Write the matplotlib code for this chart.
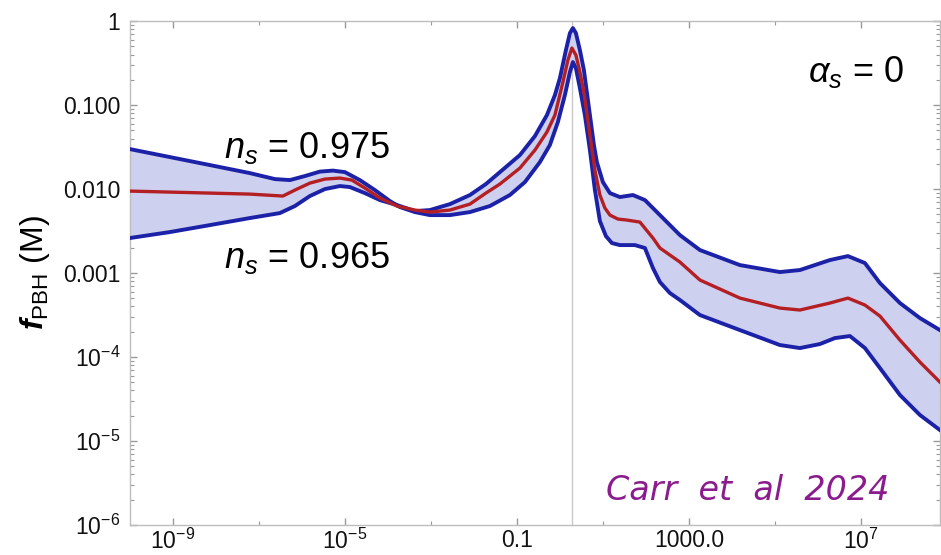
import numpy as np
import matplotlib
matplotlib.use("Agg")
import matplotlib.pyplot as plt
from matplotlib.ticker import FixedLocator, FixedFormatter, NullFormatter

plt.rcParams['font.family'] = ['Liberation Sans', 'DejaVu Sans']
plt.rcParams['mathtext.fontset'] = 'custom'
plt.rcParams['mathtext.rm'] = 'Liberation Sans'
plt.rcParams['mathtext.it'] = 'Liberation Sans:italic'
plt.rcParams['mathtext.bf'] = 'Liberation Sans:bold'
plt.rcParams['mathtext.bfit'] = 'Liberation Sans:italic:bold'

# log10(M / Msun) and log10(f_PBH)
lgm_975 = [-10.000, -9.070, -8.140, -7.209, -6.628, -6.279, -5.930, -5.581, -5.279, -5.000,
           -4.651, -4.302, -3.953, -3.721, -3.372, -3.023, -2.558, -2.093, -1.628, -1.163,
           -0.814, -0.465, -0.233, -0.047, 0.116, 0.233, 0.302, 0.372, 0.465, 0.581,
           0.698, 0.814, 0.930, 1.070, 1.209, 1.395, 1.744, 1.977, 2.163, 2.326,
           2.558, 2.791, 3.256, 4.186, 5.116, 5.581, 6.047, 6.395, 6.744, 7.093,
           7.442, 7.907, 8.372, 8.837]
lgf_975 = [-1.524, -1.619, -1.714, -1.810, -1.881, -1.893, -1.845, -1.792, -1.780, -1.798,
           -1.893, -2.012, -2.143, -2.214, -2.274, -2.310, -2.310, -2.274, -2.202, -2.071,
           -1.917, -1.679, -1.476, -1.202, -0.881, -0.607, -0.488, -0.560, -0.798, -1.119,
           -1.536, -2.012, -2.381, -2.560, -2.643, -2.667, -2.667, -2.702, -2.940, -3.107,
           -3.238, -3.321, -3.500, -3.679, -3.857, -3.893, -3.845, -3.774, -3.750, -3.893,
           -4.131, -4.452, -4.690, -4.869]

lgm_965 = [-10.000, -9.070, -8.140, -7.209, -6.512, -6.163, -5.814, -5.465, -5.116, -4.884,
           -4.535, -4.186, -3.791, -3.372, -3.023, -2.558, -2.093, -1.721, -1.395, -0.930,
           -0.581, -0.302, -0.116, 0.000, 0.140, 0.233, 0.302, 0.372, 0.465, 0.558,
           0.698, 0.791, 0.860, 1.000, 1.163, 1.395, 1.698, 1.977, 2.326, 2.791,
           3.256, 4.186, 5.116, 5.581, 6.279, 6.698, 7.093, 7.442, 7.907, 8.372,
           8.837]
lgf_965 = [-2.583, -2.512, -2.429, -2.345, -2.286, -2.202, -2.083, -2.000, -1.964, -1.976,
           -2.048, -2.131, -2.190, -2.262, -2.250, -2.179, -2.071, -1.940, -1.798, -1.595,
           -1.369, -1.119, -0.881, -0.679, -0.345, -0.143, -0.083, -0.143, -0.345, -0.583,
           -1.119, -1.476, -1.679, -1.917, -2.048, -2.095, -2.071, -2.131, -2.310, -2.548,
           -2.726, -2.905, -2.988, -2.964, -2.845, -2.798, -2.881, -3.119, -3.357, -3.536,
           -3.679]

lgm_mid = [-10.000, -9.070, -8.140, -7.209, -6.442, -6.163, -5.814, -5.465, -5.116, -4.837,
           -4.535, -4.186, -3.791, -3.372, -3.023, -2.558, -2.093, -1.721, -1.395, -0.930,
           -0.581, -0.302, -0.116, 0.070, 0.186, 0.279, 0.372, 0.465, 0.558, 0.698,
           0.814, 0.930, 1.047, 1.163, 1.349, 1.558, 1.860, 2.163, 2.326, 2.791,
           3.256, 4.186, 5.116, 5.581, 6.279, 6.698, 7.093, 7.442, 7.907, 8.372,
           8.837]
lgf_mid = [-2.024, -2.036, -2.048, -2.060, -2.083, -2.012, -1.929, -1.881, -1.869, -1.893,
           -1.988, -2.107, -2.202, -2.250, -2.274, -2.250, -2.179, -2.048, -1.940, -1.750,
           -1.536, -1.321, -1.119, -0.726, -0.464, -0.321, -0.405, -0.607, -0.845, -1.357,
           -1.774, -2.071, -2.226, -2.310, -2.357, -2.369, -2.393, -2.583, -2.702, -2.869,
           -3.083, -3.298, -3.417, -3.440, -3.357, -3.298, -3.381, -3.512, -3.798, -4.060,
           -4.298]

peak_mass = 1.95
xtick_vals = [1e-9, 1e-5, 1e-1, 1e3, 1e7]
xtick_labels = ['$10^{-9}$', '$10^{-5}$', '0.1', '1000.0', '$10^{7}$']
xminor_vals = [1e-7, 1e-3, 1e1, 1e5]
ytick_vals = [1e-6, 1e-5, 1e-4, 1e-3, 1e-2, 1e-1, 1]
ytick_labels = ['$10^{-6}$', '$10^{-5}$', '$10^{-4}$', '0.001', '0.010', '0.100', '1']

m975, f975 = 10.0 ** np.array(lgm_975), 10.0 ** np.array(lgf_975)
m965, f965 = 10.0 ** np.array(lgm_965), 10.0 ** np.array(lgf_965)
mmid, fmid = 10.0 ** np.array(lgm_mid), 10.0 ** np.array(lgf_mid)

fig = plt.figure(figsize=(9.41, 5.55), dpi=100)
ax = fig.add_axes([0.138, 0.054, 0.861, 0.908])
ax.set_xscale('log')
ax.set_yscale('log')
ax.set_xlim(1e-10, 10 ** 8.84)
ax.set_ylim(1e-6, 1)

ax.axvline(peak_mass, color='#c8c8c8', lw=1.0, zorder=1)

blue = '#1c22a8'
ax.fill(np.concatenate([m975, m965[::-1]]), np.concatenate([f975, f965[::-1]]),
        color='#cdd0ee', lw=0, zorder=2)
ax.plot(m975, f975, color=blue, lw=2.8, solid_joinstyle='round', zorder=3)
ax.plot(m965, f965, color=blue, lw=2.8, solid_joinstyle='round', zorder=3)
ax.plot(mmid, fmid, color='#b41f24', lw=2.4, solid_joinstyle='round', zorder=4)

for s in ax.spines.values():
    s.set_color('#bdbdbd')
    s.set_linewidth(1.0)

ax.xaxis.set_major_locator(FixedLocator(xtick_vals))
ax.xaxis.set_major_formatter(FixedFormatter(xtick_labels))
ax.xaxis.set_minor_locator(FixedLocator(xminor_vals))
ax.xaxis.set_minor_formatter(NullFormatter())
ax.yaxis.set_major_locator(FixedLocator(ytick_vals))
ax.yaxis.set_major_formatter(FixedFormatter(ytick_labels))
yminor = [k * 10.0 ** e for e in range(-6, 0) for k in range(2, 10)]
ax.yaxis.set_minor_locator(FixedLocator(yminor))
ax.yaxis.set_minor_formatter(NullFormatter())

ax.tick_params(which='both', direction='in', top=True, right=True, color='#9a9a9a',
               labelsize=16.5, labelcolor='#111111')
ax.tick_params(which='major', length=5, width=1.0)
ax.tick_params(which='minor', length=3, width=0.8)
ax.tick_params(axis='x', which='major', pad=2.5)
ax.tick_params(axis='y', which='major', pad=7)

ax.set_ylabel(r'$\mathbfit{f}_{\mathrm{PBH}}$ (M)', fontsize=23, labelpad=8)

ax.text(0.2185, 0.748, r'$n_s$ = 0.975', transform=ax.transAxes, fontsize=26,
        ha='center', va='center')
ax.text(0.2185, 0.530, r'$n_s$ = 0.965', transform=ax.transAxes, fontsize=26,
        ha='center', va='center')
ax.text(0.896, 0.899, r'$\alpha_s$ = 0', transform=ax.transAxes, fontsize=26,
        ha='center', va='center')
ax.text(0.763, 0.069, 'Carr  et  al  2024', transform=ax.transAxes, fontsize=24,
        ha='center', va='center', color='#8b1c8e', family='DejaVu Sans',
        style='italic', weight='light')

fig.savefig('out.png', dpi=100)
